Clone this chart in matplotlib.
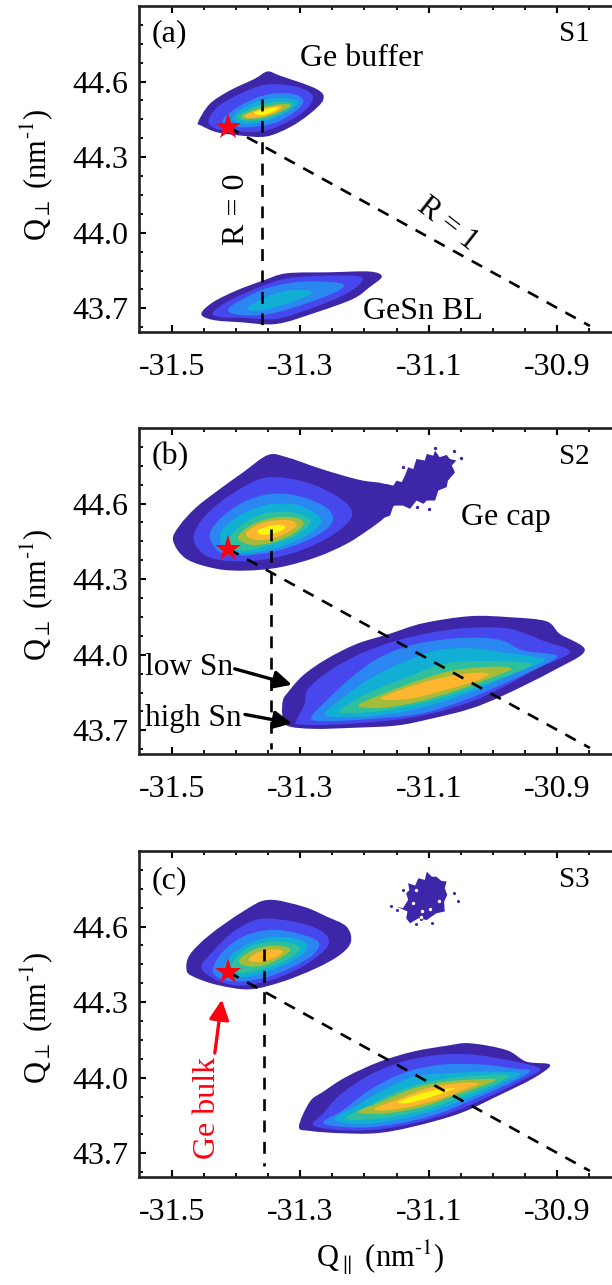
import matplotlib
matplotlib.use("Agg")
import matplotlib.pyplot as plt
from matplotlib.path import Path
from matplotlib.patches import PathPatch

plt.rcParams['font.family'] = ['Liberation Serif', 'DejaVu Serif']
plt.rcParams['mathtext.fontset'] = 'stix'
plt.rcParams['axes.unicode_minus'] = False

# contour colours, outermost level first
level_colors = ['#3D26A8', '#4648EE', '#2A86F0', '#12AFD4', '#2EC09C', '#A6BC38', '#FDB62E', '#F8F510']

x_ticks = [-31.5, -31.3, -31.1, -30.9]
x_labels = ['-31.5', '-31.3', '-31.1', '-30.9']
y_ticks = [43.7, 44.0, 44.3, 44.6]
y_labels = ['43.7', '44.0', '44.3', '44.6']

ge_bulk = (-31.412, 44.42)

# panel (a) Ge buffer, one outline per level
a_buf_x = [
    [-31.459, -31.441, -31.410, -31.371, -31.351, -31.332, -31.275, -31.264, -31.285, -31.316, -31.353, -31.394, -31.430, -31.454],
    [-31.443, -31.428, -31.394, -31.353, -31.306, -31.281, -31.290, -31.321, -31.358, -31.399, -31.430],
    [-31.415, -31.384, -31.347, -31.311, -31.295, -31.306, -31.337, -31.368, -31.399, -31.420],
    [-31.405, -31.379, -31.342, -31.311, -31.303, -31.321, -31.347, -31.379, -31.399],
    [-31.399, -31.373, -31.342, -31.316, -31.311, -31.332, -31.358, -31.386],
    [-31.391, -31.368, -31.342, -31.321, -31.316, -31.337, -31.360, -31.384],
    [-31.386, -31.365, -31.342, -31.329, -31.337, -31.358, -31.379],
    [-31.372, -31.355, -31.334, -31.342, -31.360],
]
a_buf_y = [
    [44.439, 44.511, 44.564, 44.611, 44.640, 44.624, 44.571, 44.529, 44.472, 44.419, 44.382, 44.386, 44.399, 44.425],
    [44.443, 44.501, 44.551, 44.588, 44.580, 44.544, 44.491, 44.438, 44.403, 44.403, 44.412],
    [44.465, 44.518, 44.551, 44.551, 44.525, 44.485, 44.438, 44.421, 44.419, 44.432],
    [44.461, 44.509, 44.534, 44.531, 44.511, 44.478, 44.448, 44.432, 44.438],
    [44.462, 44.498, 44.518, 44.518, 44.504, 44.472, 44.448, 44.445],
    [44.465, 44.491, 44.507, 44.511, 44.501, 44.474, 44.456, 44.452],
    [44.465, 44.488, 44.501, 44.501, 44.481, 44.461, 44.456],
    [44.477, 44.491, 44.498, 44.481, 44.467],
]

# panel (a) GeSn BL
a_sn_x = [
    [-31.454, -31.436, -31.399, -31.358, -31.321, -31.254, -31.192, -31.173, -31.192, -31.218, -31.275, -31.337, -31.394, -31.436],
    [-31.436, -31.410, -31.358, -31.316, -31.254, -31.207, -31.207, -31.233, -31.285, -31.337, -31.389, -31.425],
    [-31.412, -31.384, -31.347, -31.295, -31.238, -31.236, -31.264, -31.316, -31.358, -31.399],
    [-31.381, -31.347, -31.311, -31.280, -31.306, -31.347, -31.373],
]
a_sn_y = [
    [43.678, 43.724, 43.771, 43.810, 43.839, 43.843, 43.846, 43.826, 43.784, 43.737, 43.684, 43.638, 43.645, 43.654],
    [43.684, 43.731, 43.790, 43.821, 43.830, 43.826, 43.797, 43.751, 43.698, 43.658, 43.662, 43.665],
    [43.698, 43.744, 43.784, 43.806, 43.800, 43.777, 43.744, 43.698, 43.674, 43.675],
    [43.704, 43.751, 43.773, 43.764, 43.731, 43.698, 43.691],
]

# panel (b) Ge buffer, the Ge cap tail is kept apart below
b_buf_x = [
    [-31.498, -31.488, -31.462, -31.425, -31.389, -31.350, -31.321, -31.275, -31.233, -31.202, -31.166, -31.150, -31.166, -31.192, -31.228, -31.275, -31.332, -31.384, -31.430, -31.477],
    [-31.466, -31.454, -31.425, -31.389, -31.358, -31.321, -31.275, -31.233, -31.219, -31.233, -31.269, -31.316, -31.368, -31.420, -31.451],
    [-31.441, -31.425, -31.389, -31.347, -31.306, -31.264, -31.249, -31.259, -31.295, -31.342, -31.389, -31.425],
    [-31.425, -31.410, -31.379, -31.342, -31.301, -31.272, -31.269, -31.290, -31.332, -31.379, -31.415],
    [-31.410, -31.389, -31.358, -31.321, -31.290, -31.285, -31.306, -31.342, -31.384, -31.407],
    [-31.397, -31.373, -31.337, -31.306, -31.295, -31.311, -31.342, -31.376],
    [-31.384, -31.363, -31.332, -31.311, -31.307, -31.327, -31.353, -31.376],
    [-31.366, -31.347, -31.327, -31.325, -31.342, -31.360],
]
b_buf_y = [
    [44.453, 44.512, 44.585, 44.658, 44.724, 44.793, 44.784, 44.744, 44.711, 44.691, 44.675, 44.620, 44.552, 44.499, 44.440, 44.387, 44.347, 44.334, 44.341, 44.380],
    [44.460, 44.533, 44.605, 44.665, 44.701, 44.701, 44.671, 44.612, 44.559, 44.506, 44.447, 44.400, 44.374, 44.374, 44.400],
    [44.473, 44.539, 44.605, 44.638, 44.632, 44.592, 44.546, 44.499, 44.447, 44.409, 44.394, 44.407],
    [44.473, 44.526, 44.572, 44.599, 44.592, 44.552, 44.519, 44.473, 44.427, 44.404, 44.413],
    [44.466, 44.519, 44.559, 44.568, 44.546, 44.519, 44.473, 44.440, 44.413, 44.427],
    [44.466, 44.519, 44.546, 44.543, 44.519, 44.480, 44.447, 44.436],
    [44.484, 44.519, 44.535, 44.530, 44.509, 44.476, 44.457, 44.460],
    [44.493, 44.512, 44.515, 44.499, 44.480, 44.477],
]
b_tail_x = [-31.202, -31.166, -31.155, -31.150, -31.142, -31.137, -31.132, -31.124, -31.119, -31.106, -31.103, -31.093, -31.090, -31.083, -31.072, -31.067, -31.057, -31.064, -31.059, -31.070, -31.072, -31.085, -31.090, -31.103, -31.108, -31.119, -31.129, -31.140, -31.155, -31.160, -31.176, -31.192]
b_tail_y = [44.645, 44.678, 44.671, 44.691, 44.685, 44.711, 44.744, 44.737, 44.777, 44.771, 44.797, 44.790, 44.810, 44.784, 44.793, 44.777, 44.771, 44.751, 44.724, 44.691, 44.665, 44.652, 44.612, 44.612, 44.599, 44.612, 44.579, 44.592, 44.592, 44.552, 44.539, 44.499]

# panel (b) GeSn
b_sn_x = [
    [-31.327, -31.321, -31.296, -31.259, -31.212, -31.161, -31.109, -31.036, -30.974, -30.917, -30.896, -30.857, -30.906, -30.984, -31.036, -31.098, -31.150, -31.218, -31.280, -31.321, -31.328],
    [-31.306, -31.293, -31.288, -31.254, -31.207, -31.150, -31.093, -31.036, -30.974, -30.922, -30.880, -30.932, -30.984, -31.036, -31.098, -31.161, -31.244, -31.301],
    [-31.283, -31.259, -31.223, -31.176, -31.119, -31.046, -30.989, -30.953, -30.901, -30.922, -30.984, -31.046, -31.114, -31.192, -31.259],
    [-31.262, -31.233, -31.192, -31.140, -31.088, -31.036, -30.984, -30.932, -30.921, -30.974, -31.036, -31.098, -31.166, -31.233],
    [-31.238, -31.197, -31.140, -31.077, -31.015, -30.943, -30.963, -31.036, -31.103, -31.171, -31.223],
    [-31.210, -31.171, -31.109, -31.057, -30.994, -30.971, -30.994, -31.057, -31.119, -31.176],
    [-31.174, -31.140, -31.088, -31.036, -31.007, -31.025, -31.077, -31.129],
]
b_sn_y = [
    [43.818, 43.845, 43.917, 43.983, 44.043, 44.083, 44.125, 44.153, 44.149, 44.133, 44.083, 44.017, 43.937, 43.838, 43.785, 43.745, 43.719, 43.710, 43.706, 43.719, 43.765],
    [43.739, 43.805, 43.864, 43.937, 44.003, 44.056, 44.089, 44.107, 44.103, 44.056, 44.010, 43.944, 43.871, 43.812, 43.765, 43.739, 43.723, 43.723],
    [43.749, 43.818, 43.904, 43.990, 44.043, 44.067, 44.059, 44.017, 43.997, 43.957, 43.884, 43.818, 43.765, 43.745, 43.736],
    [43.765, 43.831, 43.904, 43.970, 44.017, 44.026, 44.010, 43.990, 43.974, 43.917, 43.851, 43.798, 43.763, 43.752],
    [43.778, 43.845, 43.904, 43.964, 43.974, 43.966, 43.931, 43.864, 43.812, 43.778, 43.769],
    [43.798, 43.845, 43.904, 43.940, 43.953, 43.944, 43.917, 43.858, 43.812, 43.789],
    [43.825, 43.864, 43.904, 43.927, 43.924, 43.897, 43.858, 43.825],
]

# panel (c) Ge buffer
c_buf_x = [
    [-31.477, -31.472, -31.441, -31.389, -31.350, -31.295, -31.259, -31.228, -31.221, -31.238, -31.275, -31.327, -31.379, -31.430, -31.467],
    [-31.454, -31.436, -31.404, -31.363, -31.311, -31.270, -31.255, -31.270, -31.306, -31.353, -31.399, -31.436],
    [-31.436, -31.420, -31.389, -31.347, -31.306, -31.272, -31.280, -31.316, -31.358, -31.404, -31.430],
    [-31.420, -31.404, -31.373, -31.337, -31.301, -31.288, -31.301, -31.337, -31.379, -31.412],
    [-31.407, -31.384, -31.347, -31.314, -31.301, -31.316, -31.353, -31.394],
    [-31.395, -31.373, -31.342, -31.316, -31.327, -31.358, -31.386],
    [-31.380, -31.363, -31.337, -31.327, -31.342, -31.366],
]
c_buf_y = [
    [44.428, 44.488, 44.567, 44.660, 44.706, 44.679, 44.640, 44.600, 44.540, 44.488, 44.435, 44.382, 44.351, 44.369, 44.402],
    [44.441, 44.501, 44.580, 44.630, 44.620, 44.587, 44.540, 44.488, 44.428, 44.382, 44.366, 44.395],
    [44.435, 44.501, 44.560, 44.587, 44.574, 44.540, 44.488, 44.435, 44.395, 44.382, 44.402],
    [44.435, 44.494, 44.540, 44.560, 44.547, 44.521, 44.481, 44.435, 44.402, 44.402],
    [44.448, 44.512, 44.540, 44.534, 44.512, 44.474, 44.435, 44.415],
    [44.468, 44.507, 44.525, 44.512, 44.481, 44.445, 44.445],
    [44.470, 44.501, 44.510, 44.498, 44.474, 44.459],
]

# panel (c) GeSn
c_sn_x = [
    [-31.302, -31.285, -31.264, -31.228, -31.176, -31.124, -31.072, -31.036, -30.979, -30.948, -30.911, -30.937, -30.989, -31.051, -31.124, -31.181, -31.238, -31.285],
    [-31.280, -31.264, -31.238, -31.192, -31.140, -31.088, -31.036, -30.979, -30.927, -30.948, -31.000, -31.062, -31.124, -31.186, -31.244],
    [-31.264, -31.233, -31.192, -31.140, -31.083, -31.020, -30.968, -30.942, -30.968, -31.020, -31.083, -31.145, -31.207],
    [-31.246, -31.212, -31.171, -31.124, -31.072, -31.010, -30.958, -30.979, -31.025, -31.088, -31.150, -31.212],
    [-31.228, -31.192, -31.150, -31.098, -31.031, -30.976, -30.994, -31.041, -31.098, -31.155, -31.212],
    [-31.210, -31.176, -31.124, -31.072, -31.000, -31.010, -31.057, -31.109, -31.166],
    [-31.184, -31.150, -31.103, -31.057, -31.022, -31.041, -31.088, -31.134, -31.171],
    [-31.147, -31.119, -31.088, -31.059, -31.072, -31.103, -31.132],
]
c_sn_y = [
    [43.806, 43.905, 43.945, 44.004, 44.064, 44.104, 44.127, 44.137, 44.110, 44.064, 44.051, 43.998, 43.932, 43.859, 43.806, 43.780, 43.780, 43.789],
    [43.813, 43.859, 43.932, 44.011, 44.064, 44.090, 44.093, 44.071, 44.037, 43.998, 43.932, 43.865, 43.819, 43.793, 43.793],
    [43.819, 43.872, 43.951, 44.018, 44.051, 44.053, 44.037, 44.027, 43.985, 43.925, 43.859, 43.819, 43.802],
    [43.837, 43.889, 43.951, 44.004, 44.018, 44.024, 44.018, 43.985, 43.932, 43.872, 43.832, 43.815],
    [43.846, 43.892, 43.945, 43.985, 44.008, 44.011, 43.978, 43.932, 43.879, 43.846, 43.832],
    [43.863, 43.903, 43.958, 43.985, 43.995, 43.974, 43.932, 43.885, 43.859],
    [43.879, 43.912, 43.958, 43.978, 43.978, 43.956, 43.912, 43.882, 43.870],
    [43.903, 43.932, 43.952, 43.958, 43.945, 43.918, 43.899],
]

# panel (c) Ge cap island, jagged so no smoothing
c_cap_x = [-31.150, -31.140, -31.132, -31.135, -31.130, -31.132, -31.121, -31.116, -31.106, -31.103, -31.095, -31.088, -31.080, -31.072, -31.075, -31.071, -31.076, -31.075, -31.088, -31.103, -31.116, -31.129, -31.135, -31.133]
c_cap_y = [44.679, 44.673, 44.706, 44.732, 44.745, 44.772, 44.763, 44.792, 44.785, 44.818, 44.798, 44.798, 44.781, 44.779, 44.752, 44.726, 44.699, 44.660, 44.653, 44.626, 44.633, 44.613, 44.633, 44.660]
c_speck_x = [-31.158, -31.150, -31.060, -31.055, -31.120, -31.095, -31.140, -31.112]
c_speck_y = [44.680, 44.665, 44.735, 44.700, 44.612, 44.616, 44.745, 44.630]
c_hole_x = [-31.124, -31.110, -31.120, -31.098, -31.084, -31.112]
c_hole_y = [44.695, 44.660, 44.745, 44.668, 44.700, 44.640]
b_speck_x = [-31.150, -31.135, -31.118, -31.100, -31.090, -31.060, -31.050, -31.140, -31.175]
b_speck_y = [44.640, 44.700, 44.585, 44.578, 44.820, 44.808, 44.780, 44.745, 44.660]

# where the R = 0 and R = 1 lines go
r0_x = [-31.36, -31.346, -31.357]
r0_top = [44.53, 44.50, 44.51]
r0_bottom = [43.606, 43.625, 43.65]
r1_end = (-30.849, 43.63)


def blob(ax, xs, ys, c):
    # closed Catmull-Rom outline turned into bezier segments
    n = len(xs)
    verts = [(xs[0], ys[0])]
    codes = [Path.MOVETO]
    for i in range(n):
        x0, y0 = xs[i - 1], ys[i - 1]
        x1, y1 = xs[i], ys[i]
        x2, y2 = xs[(i + 1) % n], ys[(i + 1) % n]
        x3, y3 = xs[(i + 2) % n], ys[(i + 2) % n]
        verts.append((x1 + (x2 - x0) / 6, y1 + (y2 - y0) / 6))
        verts.append((x2 - (x3 - x1) / 6, y2 - (y3 - y1) / 6))
        verts.append((x2, y2))
        codes += [Path.CURVE4, Path.CURVE4, Path.CURVE4]
    ax.add_patch(PathPatch(Path(verts, codes), facecolor=c, edgecolor='none', zorder=2))


def levels(ax, all_x, all_y):
    for i in range(len(all_x)):
        blob(ax, all_x[i], all_y[i], level_colors[i])


W, H = 612, 1285
fig = plt.figure(figsize=(W / 100, H / 100), dpi=100)

tops = [6, 428, 851]
axs = []
for k in range(3):
    ax = fig.add_axes([139 / W, 1 - (tops[k] + 326) / H, (640 - 139) / W, 326 / H])
    ax.set_xlim(-31.551, -30.771)
    ax.set_ylim(43.606, 44.9)
    ax.set_xticks(x_ticks)
    ax.set_xticklabels(x_labels)
    ax.set_yticks(y_ticks)
    ax.set_yticklabels(y_labels)
    ax.set_xticks([-31.45, -31.4, -31.35, -31.25, -31.2, -31.15, -31.05, -31.0, -30.95, -30.85, -30.8], minor=True)
    ax.set_yticks([43.625, 43.775, 43.85, 43.925, 44.075, 44.15, 44.225, 44.375, 44.45, 44.525, 44.675, 44.75, 44.825], minor=True)
    ax.tick_params(which='major', direction='in', length=5, width=1.5, top=True, labelsize=23)
    ax.tick_params(which='minor', direction='in', length=3, width=1.3, top=True)
    ax.tick_params(axis='x', which='major', pad=15)
    ax.tick_params(axis='y', which='major', pad=8)
    for s in ax.spines.values():
        s.set_linewidth(1.9)
        s.set_color('#222222')
    axs.append(ax)

levels(axs[0], a_buf_x, a_buf_y)
levels(axs[0], a_sn_x, a_sn_y)
axs[1].fill(b_tail_x, b_tail_y, color=level_colors[0], lw=0, zorder=1.9)
levels(axs[1], b_buf_x, b_buf_y)
levels(axs[1], b_sn_x, b_sn_y)
levels(axs[2], c_buf_x, c_buf_y)
levels(axs[2], c_sn_x, c_sn_y)

axs[2].fill(c_cap_x, c_cap_y, color=level_colors[0], lw=0, zorder=2)
axs[2].scatter(c_speck_x, c_speck_y, s=5, color=level_colors[0], lw=0, zorder=2)
axs[2].scatter(c_hole_x, c_hole_y, s=6, color='white', lw=0, zorder=2.5)
axs[1].scatter(b_speck_x, b_speck_y, s=6, color=level_colors[0], lw=0, zorder=2)

for k in range(3):
    ax = axs[k]
    ax.plot([r0_x[k], r0_x[k]], [r0_top[k], r0_bottom[k]], color='black', lw=1.9, dashes=(4.5, 3.6), zorder=3)
    ax.plot([ge_bulk[0], r1_end[0]], [ge_bulk[1], r1_end[1]], color='black', lw=1.9, dashes=(4.5, 3.6), zorder=3)
    ax.plot([ge_bulk[0]], [ge_bulk[1]], marker='*', color='#FF0010', ms=20, mew=0, zorder=4)

axs[0].text(-31.531, 44.79, '(a)', fontsize=23, va='center')
axs[0].text(-30.849, 44.79, 'S1', fontsize=21, va='center', ha='right')
axs[0].text(-31.301, 44.691, 'Ge buffer', fontsize=23, va='center')
axs[0].text(-31.399, 44.092, 'R = 0', fontsize=23, va='center', ha='center', rotation=90)
axs[0].text(-31.07, 44.035, 'R = 1', fontsize=22, va='center', ha='center', rotation=-38)
axs[0].text(-31.202, 43.687, 'GeSn BL', fontsize=23, va='center')

axs[1].text(-31.531, 44.786, '(b)', fontsize=23, va='center')
axs[1].text(-30.849, 44.786, 'S2', fontsize=21, va='center', ha='right')
axs[1].text(-31.05, 44.544, 'Ge cap', fontsize=23, va='center')
axs[1].text(-31.542, 43.948, 'low Sn', fontsize=22.5, va='center')
axs[1].text(-31.542, 43.748, 'high Sn', fontsize=22.5, va='center')
axs[1].annotate('', xy=(-31.313, 43.881), xytext=(-31.402, 43.944),
                arrowprops=dict(arrowstyle='-|>', color='black', lw=2.4, mutation_scale=27, shrinkA=0, shrinkB=0))
axs[1].annotate('', xy=(-31.313, 43.728), xytext=(-31.386, 43.763),
                arrowprops=dict(arrowstyle='-|>', color='black', lw=2.4, mutation_scale=27, shrinkA=0, shrinkB=0))

axs[2].text(-31.531, 44.783, '(c)', fontsize=23, va='center')
axs[2].text(-30.849, 44.783, 'S3', fontsize=21, va='center', ha='right')
axs[2].text(-31.445, 43.88, 'Ge bulk', fontsize=23, color='#FF0010', va='center', ha='center', rotation=90)
axs[2].annotate('', xy=(-31.422, 44.31), xytext=(-31.433, 44.098),
                arrowprops=dict(arrowstyle='-|>', color='#FF0010', lw=2.4, mutation_scale=30, shrinkA=0, shrinkB=0))

for cy in [175, 595, 1018]:
    fig.text(37 / W, 1 - cy / H, r'Q$_{\perp}$ (nm$^{\text{-}1}$)', fontsize=22, rotation=90, va='center', ha='center')
fig.text(380 / W, 1 - 1258 / H, r'Q$_{\parallel}$ (nm$^{\text{-}1}$)', fontsize=22, va='center', ha='center')

fig.savefig('out.png', dpi=100)
